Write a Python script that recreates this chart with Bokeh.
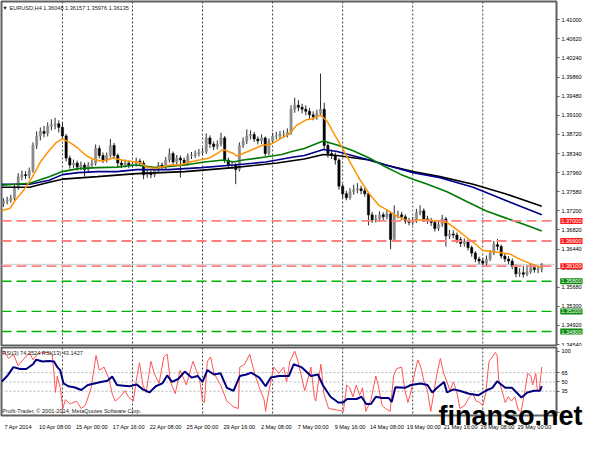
from bokeh.plotting import figure
from bokeh.models import Range1d, Span, Label, FixedTicker, PrintfTickFormatter, ColumnDataSource, GridBox
from bokeh.embed import file_html
from bokeh.resources import INLINE

# ---------------- data (EURUSD, 8h steps) ----------------
closes = [
    1.3739, 1.3741, 1.3745, 1.3767, 1.3788, 1.3792, 1.3790, 1.3800, 1.3850, 1.3869,
    1.3878, 1.3874, 1.3888, 1.3891, 1.3893, 1.3886, 1.3869, 1.3825, 1.3811, 1.3815,
    1.3807, 1.3811, 1.3802, 1.3811, 1.3815, 1.3844, 1.3830, 1.3821, 1.3830, 1.3850,
    1.3830, 1.3815, 1.3811, 1.3815, 1.3811, 1.3813, 1.3819, 1.3815, 1.3792, 1.3796,
    1.3792, 1.3800, 1.3811, 1.3807, 1.3821, 1.3834, 1.3817, 1.3825, 1.3821, 1.3815,
    1.3829, 1.3830, 1.3834, 1.3836, 1.3838, 1.3865, 1.3853, 1.3848, 1.3853, 1.3865,
    1.3821, 1.3811, 1.3811, 1.3802, 1.3850, 1.3859, 1.3869, 1.3872, 1.3863, 1.3859,
    1.3865, 1.3834, 1.3859, 1.3869, 1.3869, 1.3872, 1.3872, 1.3876, 1.3922, 1.3930,
    1.3926, 1.3922, 1.3918, 1.3911, 1.3907, 1.3914, 1.3922, 1.3850, 1.3834, 1.3830,
    1.3821, 1.3769, 1.3754, 1.3746, 1.3758, 1.3762, 1.3764, 1.3760, 1.3754, 1.3712,
    1.3702, 1.3704, 1.3712, 1.3708, 1.3714, 1.3663, 1.3712, 1.3712, 1.3708, 1.3700,
    1.3697, 1.3700, 1.3716, 1.3720, 1.3704, 1.3700, 1.3697, 1.3685, 1.3693, 1.3704,
    1.3670, 1.3674, 1.3672, 1.3663, 1.3655, 1.3659, 1.3647, 1.3636, 1.3624, 1.3620,
    1.3616, 1.3624, 1.3636, 1.3653, 1.3649, 1.3630, 1.3624, 1.3620, 1.3609, 1.3595,
    1.3597, 1.3594, 1.3599, 1.3607, 1.3603, 1.3605, 1.3614]
highs = [
    1.3745, 1.3748, 1.3752, 1.3772, 1.3795, 1.3800, 1.3799, 1.3806, 1.3856, 1.3878,
    1.3886, 1.3889, 1.3896, 1.3902, 1.3905, 1.3900, 1.3895, 1.3873, 1.3830, 1.3822,
    1.3820, 1.3818, 1.3816, 1.3817, 1.3822, 1.3852, 1.3850, 1.3836, 1.3836, 1.3863,
    1.3855, 1.3834, 1.3821, 1.3822, 1.3820, 1.3819, 1.3826, 1.3824, 1.3820, 1.3803,
    1.3801, 1.3806, 1.3817, 1.3816, 1.3827, 1.3844, 1.3838, 1.3831, 1.3830, 1.3826,
    1.3834, 1.3837, 1.3840, 1.3843, 1.3845, 1.3874, 1.3870, 1.3858, 1.3860, 1.3875,
    1.3869, 1.3826, 1.3818, 1.3815, 1.3856, 1.3866, 1.3882, 1.3880, 1.3877, 1.3868,
    1.3872, 1.3868, 1.3864, 1.3875, 1.3877, 1.3879, 1.3880, 1.3884, 1.3930, 1.3945,
    1.3940, 1.3933, 1.3930, 1.3925, 1.3918, 1.3921, 1.3993, 1.3935, 1.3856, 1.3842,
    1.3836, 1.3825, 1.3774, 1.3760, 1.3765, 1.3772, 1.3775, 1.3770, 1.3766, 1.3758,
    1.3718, 1.3712, 1.3719, 1.3717, 1.3722, 1.3718, 1.3731, 1.3720, 1.3718, 1.3713,
    1.3706, 1.3708, 1.3724, 1.3731, 1.3725, 1.3710, 1.3706, 1.3701, 1.3699, 1.3712,
    1.3708, 1.3682, 1.3681, 1.3677, 1.3668, 1.3665, 1.3663, 1.3651, 1.3640, 1.3629,
    1.3626, 1.3631, 1.3642, 1.3660, 1.3664, 1.3653, 1.3635, 1.3630, 1.3625, 1.3613,
    1.3606, 1.3611, 1.3612, 1.3616, 1.3613, 1.3611, 1.3616]
lows = [
    1.3728, 1.3733, 1.3736, 1.3740, 1.3762, 1.3781, 1.3783, 1.3784, 1.3796, 1.3843,
    1.3860, 1.3866, 1.3868, 1.3880, 1.3882, 1.3876, 1.3862, 1.3818, 1.3804, 1.3805,
    1.3800, 1.3801, 1.3788, 1.3797, 1.3806, 1.3810, 1.3824, 1.3815, 1.3816, 1.3826,
    1.3824, 1.3809, 1.3805, 1.3806, 1.3805, 1.3806, 1.3808, 1.3809, 1.3783, 1.3786,
    1.3785, 1.3787, 1.3795, 1.3801, 1.3802, 1.3816, 1.3812, 1.3812, 1.3786, 1.3809,
    1.3810, 1.3823, 1.3825, 1.3828, 1.3830, 1.3833, 1.3845, 1.3841, 1.3842, 1.3848,
    1.3815, 1.3804, 1.3803, 1.3773, 1.3798, 1.3845, 1.3853, 1.3862, 1.3857, 1.3852,
    1.3853, 1.3828, 1.3830, 1.3854, 1.3862, 1.3863, 1.3865, 1.3866, 1.3871, 1.3915,
    1.3918, 1.3914, 1.3910, 1.3903, 1.3900, 1.3901, 1.3908, 1.3842, 1.3826, 1.3823,
    1.3812, 1.3762, 1.3745, 1.3741, 1.3742, 1.3752, 1.3755, 1.3753, 1.3748, 1.3691,
    1.3696, 1.3697, 1.3699, 1.3701, 1.3703, 1.3644, 1.3660, 1.3705, 1.3702, 1.3694,
    1.3691, 1.3692, 1.3696, 1.3711, 1.3698, 1.3694, 1.3690, 1.3679, 1.3680, 1.3688,
    1.3649, 1.3664, 1.3665, 1.3656, 1.3648, 1.3649, 1.3641, 1.3629, 1.3618, 1.3614,
    1.3610, 1.3611, 1.3620, 1.3632, 1.3642, 1.3625, 1.3618, 1.3614, 1.3604, 1.3588,
    1.3589, 1.3587, 1.3590, 1.3595, 1.3597, 1.3596, 1.3598]
first_open = 1.3735

# moving averages (bar position, value)
ma_fast_x = [-0.5, 1.8, 3.2, 5.8, 7.9, 10, 12.4, 14.2, 16, 18.2, 20.3, 22.4, 24.2, 26.3, 28.2, 29.5,
             30.8, 33.4, 36.1, 37.4, 38.7, 41.3, 42.9, 45.3, 47.9, 50.5, 53.2, 55.8, 58.4, 59.5,
             62.4, 63.2, 65, 67.6, 70.3, 72.1, 74.2, 75.5, 77.4, 79.5, 82.1, 83.9, 86, 87.9, 90,
             91.8, 94, 96.6, 99.2, 101.8, 104.5, 107.1, 109.7, 112.4, 115, 117.6, 120.3, 122.9,
             125.5, 128.2, 130, 132.1, 134.7, 137.4, 140, 142.6, 146]
ma_fast_y = [1.3720, 1.3725, 1.3741, 1.3764, 1.3788, 1.3817, 1.3840, 1.3855, 1.3863, 1.3855, 1.3844,
             1.3830, 1.3823, 1.3819, 1.3821, 1.3825, 1.3823, 1.3819, 1.3817, 1.3815, 1.3807, 1.3804,
             1.3807, 1.3811, 1.3811, 1.3817, 1.3821, 1.3825, 1.3836, 1.3842, 1.3834, 1.3829, 1.3834,
             1.3842, 1.3851, 1.3851, 1.3859, 1.3865, 1.3872, 1.3890, 1.3901, 1.3903, 1.3911, 1.3897,
             1.3869, 1.3846, 1.3817, 1.3783, 1.3754, 1.3731, 1.3720, 1.3708, 1.3700, 1.3702, 1.3702,
             1.3700, 1.3697, 1.3683, 1.3668, 1.3653, 1.3641, 1.3639, 1.3637, 1.3634, 1.3624, 1.3616,
             1.3607]
ma_green_x = [-0.5, 7.1, 12.4, 16, 20.3, 25.5, 30.8, 36.1, 41.3, 49.2, 54.5, 59.7, 62.4, 65, 71.1,
              75.5, 78.2, 81.6, 86, 86.8, 90.5, 94.7, 99.2, 103.7, 107.9, 111.1, 115, 120.3, 125.5,
              130.8, 136.1, 141.3, 146]
ma_green_y = [1.3771, 1.3775, 1.3788, 1.3798, 1.3804, 1.3806, 1.3807, 1.3811, 1.3806, 1.3811, 1.3817,
              1.3821, 1.3817, 1.3821, 1.3827, 1.3832, 1.3838, 1.3844, 1.3857, 1.3859, 1.3851, 1.3840,
              1.3825, 1.3807, 1.3792, 1.3783, 1.3773, 1.3758, 1.3739, 1.3720, 1.3706, 1.3693, 1.3680]
ma_blue_x = [-0.5, 7.1, 12.4, 16, 20.3, 25.5, 30.8, 36.1, 44.7, 53.7, 62.4, 71.1, 74.2, 78.7, 81.6,
             86.8, 90.5, 99.2, 103.7, 111.1, 118.4, 127.4, 136.1, 146]
ma_blue_y = [1.3773, 1.3773, 1.3781, 1.3792, 1.3796, 1.3798, 1.3798, 1.3802, 1.3802, 1.3806, 1.3811,
             1.3817, 1.3821, 1.3827, 1.3830, 1.3842, 1.3838, 1.3821, 1.3811, 1.3796, 1.3786, 1.3767,
             1.3741, 1.3712]
ma_black_x = [-0.5, 7.1, 12.4, 16, 25.5, 36.1, 49.2, 62.4, 74.2, 81.6, 86.8, 90.5, 99.2, 103.7, 111.1,
              118.4, 127.4, 136.1, 146]
ma_black_y = [1.3767, 1.3767, 1.3777, 1.3783, 1.3788, 1.3794, 1.3798, 1.3806, 1.3815, 1.3823, 1.3832,
              1.3830, 1.3821, 1.3811, 1.3798, 1.3788, 1.3773, 1.3754, 1.3729]

# RSI(3) and RSI(13)
rsi3_x = [-0.5, 0.1, 1.4, 2.7, 4, 5.3, 7.1, 8, 9.3, 10.6, 12.4, 13.2, 13.7, 14.1, 14.6, 15.4, 16.1, 16.8,
          18.1, 19.8, 21.1, 22.2, 23.8, 25.1, 26, 27.3, 28.6, 29.5, 30.3, 31.7, 33, 33.9, 35.2, 36.1,
          36.9, 37.8, 38.7, 40, 40.9, 42.2, 43.5, 44.4, 45.3, 46.6, 47.9, 49.6, 51.4, 52.3, 53.2, 54,
          54.5, 55.3, 56.2, 57.1, 58.9, 60.6, 62.4, 63.7, 64.1, 65.4, 66.8, 68.1, 69.4, 70.7, 71.1, 72,
          73.3, 74.7, 76, 76.8, 77.7, 79, 79.9, 80.8, 81.7, 82.6, 83.4, 84.3, 84.7, 86.1, 86.9, 88.2,
          90.4, 92.2, 93.1, 93.9, 94.8, 95.7, 96.6, 97.4, 98.3, 99.7, 101, 101.8, 102.7, 103.6, 104.9,
          105.8, 106.6, 108, 108.9, 109.7, 110.6, 111.5, 112.4, 113.2, 114.1, 115, 115.9, 116.8, 117.6,
          118.5, 119.4, 120.3, 121.1, 122, 122.9, 123.8, 125.1, 126.4, 127.3, 128.2, 129.1, 130, 130.8,
          131.7, 132.6, 133.4, 133.9, 134.3, 135.2, 136.1, 136.9, 137.8, 138.7, 139.6, 140.4, 141.3,
          142.2, 143.1, 143.5, 144.4, 144.8, 145.3, 146]
rsi3_y = [97.6, 100, 88, 95, 76, 85.7, 97.6, 85.7, 95, 97.6, 97.6, 95, 64, 33, 59.5, 40.5, 7, 21.4,
          14.3, 19, 7, 12, 40.5, 92.9, 69, 74, 54.8, 31, 19, 26, 35.7, 26, 19, 54.8,
          81, 45, 33, 83.3, 64, 47.6, 90.5, 95, 50, 31, 69, 45, 83.3, 69, 54.8, 19,
          16.7, 83.3, 90.5, 64, 45, 19, 9.5, 7, 74, 78.6, 95, 64, 40.5, 21.4, 2.4, 35.7,
          74, 64, 74, 50, 83.3, 100, 83.3, 59.5, 35.7, 54.8, 74, 26, 19, 78.6, 31, 7,
          4.8, 2.4, 45, 40.5, 26, 45, 28.6, 40.5, 2.4, 21.4, 59.5, 40.5, 12, 7, 2.4,
          59.5, 71.4, 74, 35.7, 16.7, 35.7, 64, 85.7, 74, 50, 35.7, 2.4, 35.7, 64,
          88, 64, 50, 35.7, 50, 35.7, 7, 12, 26, 31, 19, 16.7, 12, 31,
          83.3, 90.5, 97.6, 92.9, 54.8, 35.7, 16.7, 26, 19, 26, 4.8, 2.4, 31,
          64, 59.5, 45, 64, 35.7, 35.7, 74.3]
rsi13_x = [-0.5, 1, 2.7, 4.5, 6.2, 8, 8.9, 10.6, 12.4, 13.7, 14.6, 15.4, 16.3, 17.6, 19.4, 21.1, 22.9,
           24.7, 26.4, 28.2, 29.5, 30.8, 32.6, 34.3, 36.1, 37.8, 39.6, 41.3, 43.1, 44.4, 45.7, 47.4,
           49.2, 51, 52.7, 54, 55.3, 57.1, 58.9, 60.6, 62.4, 64.1, 65.9, 67.2, 69.4, 71.1, 72.5, 74.7,
           76.4, 77.4, 78.7, 80.8, 83.4, 85.3, 86.6, 88.7, 90.8, 92.1, 93.2, 95.8, 97.1, 98.4, 99.7,
           101, 102.6, 104.5, 105.3, 106.3, 108.9, 110.5, 113.2, 115, 116.3, 117.6, 119.5, 120.3,
           122.1, 123.7, 126.3, 128.9, 130.8, 132.6, 133.9, 136.1, 137.9, 140.5, 142.1, 143.9, 145.5,
           146]
rsi13_y = [50, 59.5, 74, 71, 71, 78.6, 86, 83, 84, 83, 74, 69, 47.6, 43, 41, 37, 45,
           47.6, 50, 52, 58.6, 45, 44, 43, 46, 38, 33, 43, 47.6, 60.5, 50, 54.7,
           66.7, 57, 59.5, 50, 69, 62, 64, 40.5, 35.7, 59.5, 62, 65, 57, 43, 57, 59.5,
           59.5, 59.5, 78.6, 74, 59.5, 62, 45, 26, 16.7, 16.7, 22.4, 22.4, 26, 14.3, 14.3,
           26, 24, 24, 17.6, 41.4, 40.5, 45, 47.6, 45, 33, 40.5, 50, 33,
           38, 35.7, 31, 28.6, 35.7, 40.5, 51, 40.5, 40.5, 24.8, 33, 35.7, 35.7,
           43.1]

price_ticks = [1.34540, 1.34920, 1.35300, 1.35680, 1.36060, 1.36440, 1.36820, 1.37200, 1.37580,
               1.37960, 1.38340, 1.38720, 1.39100, 1.39480, 1.39860, 1.40240, 1.40620, 1.41000]
resistance_levels = [1.37000, 1.36600, 1.36100]
support_levels = [1.35800, 1.35200, 1.34800]
bid_price = 1.36135
rsi_ticks = [0, 35, 50, 65, 100]
rsi_levels = [35, 50, 65]
separator_bars = [16, 35, 54, 73, 92, 111, 130]
label_bars = [0, 10, 20, 30, 40, 50, 60, 70, 80, 90, 100, 110, 120, 130, 140]
label_texts = ["7 Apr 2014", "10 Apr 08:00", "15 Apr 00:00", "17 Apr 16:00", "22 Apr 08:00",
               "25 Apr 00:00", "29 Apr 16:00", "2 May 08:00", "7 May 00:00", "9 May 16:00",
               "14 May 08:00", "19 May 00:00", "21 May 16:00", "26 May 08:00", "29 May 00:00"]
header_text = "\u25bc EURUSD,H4  1.36048 1.36157 1.35976 1.36135"
rsi_text = "RSI(3) 74.2524  RSI(13) 43.1427"
copyright_text = "Profit-Trader, \u00a9 2001-2014, MetaQuotes Software Corp."
watermark_text = "finanso.net"

# ---------------- figures ----------------
FONT = "Liberation Sans"
FS = "5.6px"
W = 584
H1 = 346
H2 = 86
xr = Range1d(-0.53, 150)

opens = [first_open] + closes[:-1]
bars = list(range(len(closes)))
src = ColumnDataSource(dict(
    x=bars, o=opens, h=highs, l=lows, c=closes,
    top=[max(a, b) for a, b in zip(opens, closes)],
    bottom=[min(a, b) for a, b in zip(opens, closes)],
    color=["#8a8a8a" if c >= o else "#000000" for o, c in zip(opens, closes)],
))

p1 = figure(width=W, height=H1, x_range=xr, y_range=Range1d(1.34522, 1.41363),
            y_axis_location="right", x_axis_location=None, output_backend="svg",
            toolbar_location=None, min_border_left=1, min_border_right=0,
            min_border_top=1, min_border_bottom=1)
p2 = figure(width=W, height=H2, x_range=xr, y_range=Range1d(-4.3, 105.7),
            y_axis_location="right", output_backend="svg", toolbar_location=None,
            min_border_left=1, min_border_right=0, min_border_top=1, min_border_bottom=0)

for p in (p1, p2):
    p.xgrid.visible = False
    p.ygrid.visible = False
    p.outline_line_color = "#606060"
    p.outline_line_width = 2
    p.background_fill_color = "white"
    p.border_fill_color = "white"
    p.yaxis.major_label_text_font = FONT
    p.yaxis.major_label_text_font_size = FS
    p.yaxis.major_label_text_color = "#000000"
    p.yaxis.major_tick_out = 3
    p.yaxis.major_tick_in = 0
    p.yaxis.minor_tick_line_color = None
    p.yaxis.axis_line_color = "#606060"
    p.yaxis.major_tick_line_color = "#606060"
    p.yaxis.major_label_standoff = 2
    for b in separator_bars:
        p.add_layout(Span(location=b, dimension="height", line_color="#404040",
                          line_dash="2 2", line_width=1, level="underlay"))

p1.yaxis.ticker = FixedTicker(ticks=price_ticks)
p1.yaxis.formatter = PrintfTickFormatter(format="%.5f")

# level lines
for lv in resistance_levels:
    p1.add_layout(Span(location=lv, dimension="width", line_color="#ff8080",
                       line_dash="10 5", line_width=1.8))
for lv in support_levels:
    p1.add_layout(Span(location=lv, dimension="width", line_color="#00b400",
                       line_dash="10 5", line_width=1.3))
p1.add_layout(Span(location=bid_price, dimension="width", line_color="#cfcfcf",
                   line_width=1, level="underlay"))

# candles
p1.segment(x0="x", y0="l", x1="x", y1="h", source=src, line_color="#2a2a2a", line_width=1)
p1.vbar(x="x", width=0.62, top="top", bottom="bottom", fill_color="color",
        line_color="color", line_width=0.5, source=src)

# moving averages
p1.line(ma_black_x, ma_black_y, line_color="#000000", line_width=1.6)
p1.line(ma_blue_x, ma_blue_y, line_color="#00008b", line_width=1.6)
p1.line(ma_green_x, ma_green_y, line_color="#007a00", line_width=1.6)
p1.line(ma_fast_x, ma_fast_y, line_color="#ff9400", line_width=1.5)

# header
p1.add_layout(Label(x=-0.3, y=1.4123, text=header_text, text_font=FONT, text_font_size=FS,
                    text_color="#202020", text_baseline="middle", text_align="left"))

# RSI panel
p2.yaxis.ticker = FixedTicker(ticks=rsi_ticks)
for lv in rsi_levels:
    p2.add_layout(Span(location=lv, dimension="width", line_color="#b4b4b4",
                       line_dash="2 2", line_width=1, level="underlay"))
p2.line(rsi3_x, rsi3_y, line_color="#ff5555", line_width=1)
p2.line(rsi13_x, rsi13_y, line_color="#000080", line_width=2)

tick_pos = [b + 4 for b in label_bars]
p2.xaxis.ticker = FixedTicker(ticks=tick_pos)
p2.xaxis.major_label_overrides = {t: s for t, s in zip(tick_pos, label_texts)}
p2.xaxis.major_label_text_font = FONT
p2.xaxis.major_label_text_font_size = FS
p2.xaxis.major_label_text_color = "#000000"
p2.xaxis.major_tick_line_color = None
p2.xaxis.minor_tick_line_color = None
p2.xaxis.axis_line_color = None
p2.xaxis.major_label_standoff = 2

p2.add_layout(Label(x=-0.3, y=97, text=rsi_text, text_font=FONT, text_font_size=FS,
                    text_color="#202020", text_baseline="middle", text_align="left"))
p2.add_layout(Label(x=-0.3, y=3, text=copyright_text, text_font=FONT, text_font_size=FS,
                    text_color="#202020", text_baseline="middle", text_align="left"))

# ---------------- transparent overlays (price boxes over the axis, watermark) ----------------
ov1 = figure(width=W, height=H1, x_range=Range1d(0, W), y_range=p1.y_range,
             x_axis_location=None, y_axis_location=None, output_backend="svg",
             toolbar_location=None, min_border_left=0, min_border_right=0,
             min_border_top=1, min_border_bottom=1)
ov2 = figure(width=W, height=H2, x_range=Range1d(0, W), y_range=Range1d(0, H2),
             x_axis_location=None, y_axis_location=None, output_backend="svg",
             toolbar_location=None, min_border_left=0, min_border_right=0,
             min_border_top=0, min_border_bottom=0)
for ov in (ov1, ov2):
    ov.frame_align = False
    ov.background_fill_alpha = 0
    ov.border_fill_alpha = 0
    ov.outline_line_color = None
    ov.grid.visible = False

for lv in resistance_levels:
    ov1.add_layout(Label(x=W, y=lv, x_units="canvas", x_offset=-2, text="%.5f" % lv,
                         text_font=FONT, text_font_size=FS, text_color="white",
                         text_baseline="middle", text_align="right",
                         background_fill_color="#ff1a1a", padding=1))
for lv in support_levels:
    ov1.add_layout(Label(x=W, y=lv, x_units="canvas", x_offset=-2, text="%.5f" % lv,
                         text_font=FONT, text_font_size=FS, text_color="white",
                         text_baseline="middle", text_align="right",
                         background_fill_color="#0a8a0a", padding=1))

ov2.add_layout(Label(x=438, y=17, text=watermark_text, text_font=FONT,
                     text_font_size="27px", text_font_style="bold", text_color="#000000",
                     text_baseline="alphabetic", text_align="left"))

layout = GridBox(children=[(p1, 0, 0), (ov1, 0, 0), (p2, 1, 0), (ov2, 1, 0)], spacing=0)
open("out.html", "w").write(file_html(layout, INLINE))
